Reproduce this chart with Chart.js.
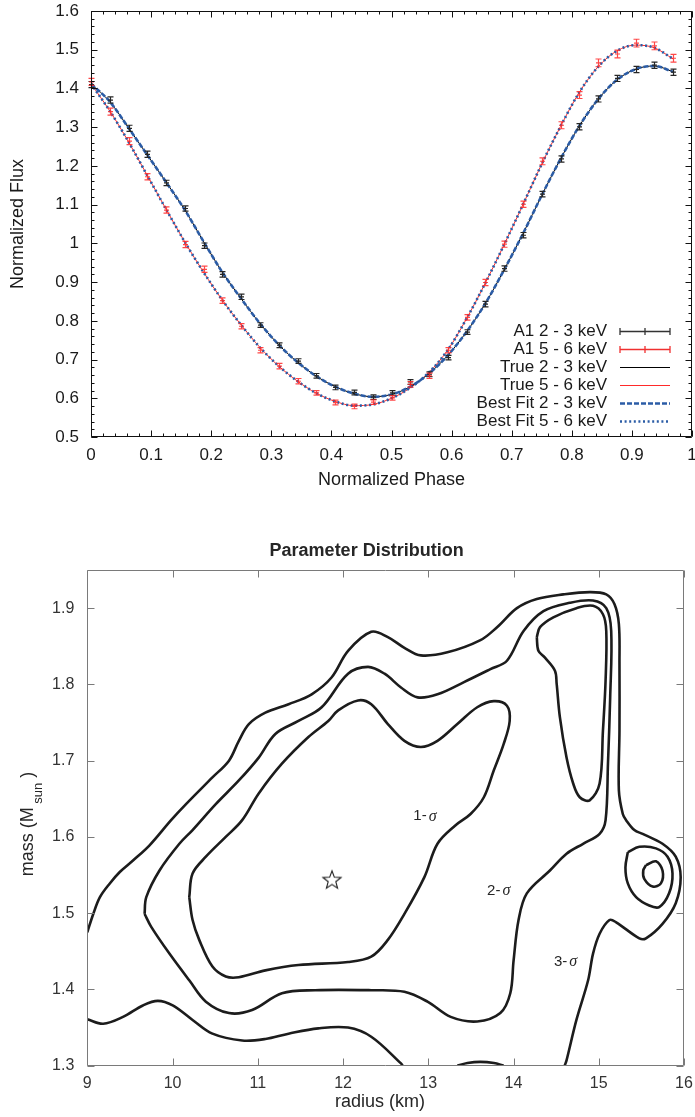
<!DOCTYPE html>
<html>
<head>
<meta charset="utf-8">
<script src="https://cdn.jsdelivr.net/npm/chart.js@4.4.1/dist/chart.umd.min.js"></script>
<style>
    html, body { margin: 0; padding: 0; background: #fff; }
    #wrap { position: relative; width: 695px; height: 1117px; overflow: hidden; }
    canvas { position: absolute; left: 0; }
    #fluxChart { top: 0; }
    #massChart { top: 505px; }
</style>
</head>
<body>
<div id="wrap">
    <canvas id="fluxChart" width="695" height="505"></canvas>
    <canvas id="massChart" width="695" height="612"></canvas>
</div>
<script>
// ---- Pulse profile data (top panel) ----
const phases = [0, 0.03125, 0.0625, 0.09375, 0.125, 0.15625, 0.1875, 0.21875, 0.25, 0.28125, 0.3125, 0.34375, 0.375, 0.40625, 0.4375, 0.46875,
    0.5, 0.53125, 0.5625, 0.59375, 0.625, 0.65625, 0.6875, 0.71875, 0.75, 0.78125, 0.8125, 0.84375, 0.875, 0.90625, 0.9375, 0.96875];
const a1Low = [1.410, 1.370, 1.297, 1.230, 1.156, 1.090, 0.994, 0.920, 0.862, 0.789, 0.737, 0.696, 0.658, 0.628, 0.615, 0.603,
    0.614, 0.642, 0.662, 0.705, 0.771, 0.843, 0.935, 1.021, 1.127, 1.218, 1.301, 1.373, 1.426, 1.449, 1.460, 1.442];
const a1High = [1.417, 1.340, 1.264, 1.172, 1.086, 0.997, 0.933, 0.852, 0.786, 0.724, 0.683, 0.644, 0.614, 0.589, 0.579, 0.590,
    0.601, 0.636, 0.658, 0.724, 0.809, 0.899, 0.998, 1.101, 1.212, 1.305, 1.383, 1.466, 1.489, 1.517, 1.510, 1.478];
const errLow = [0.008, 0.008, 0.008, 0.008, 0.007, 0.007, 0.007, 0.007, 0.007, 0.006, 0.006, 0.006, 0.006, 0.006, 0.006, 0.006,
    0.006, 0.006, 0.006, 0.006, 0.006, 0.007, 0.007, 0.007, 0.007, 0.008, 0.008, 0.008, 0.008, 0.008, 0.008, 0.008];
const errHigh = [0.009, 0.009, 0.009, 0.008, 0.008, 0.008, 0.008, 0.007, 0.007, 0.007, 0.007, 0.007, 0.006, 0.006, 0.006, 0.006,
    0.006, 0.007, 0.007, 0.007, 0.007, 0.008, 0.008, 0.008, 0.009, 0.009, 0.009, 0.010, 0.010, 0.010, 0.010, 0.010];
const modelLow = [1.412, 1.366, 1.298, 1.228, 1.158, 1.086, 1.004, 0.925, 0.857, 0.793, 0.738, 0.693, 0.657, 0.630, 0.612, 0.604,
    0.610, 0.630, 0.664, 0.711, 0.772, 0.845, 0.932, 1.025, 1.124, 1.218, 1.303, 1.372, 1.422, 1.450, 1.458, 1.443];
const modelHigh = [1.412, 1.342, 1.262, 1.175, 1.088, 1.003, 0.925, 0.853, 0.789, 0.731, 0.683, 0.644, 0.613, 0.592, 0.581, 0.584,
    0.600, 0.627, 0.667, 0.725, 0.806, 0.898, 0.997, 1.100, 1.205, 1.302, 1.390, 1.456, 1.497, 1.512, 1.505, 1.476];
const phaseTicks = [0, 0.1, 0.2, 0.3, 0.4, 0.5, 0.6, 0.7, 0.8, 0.9, 1];
const fluxTicks = [0.5, 0.6, 0.7, 0.8, 0.9, 1, 1.1, 1.2, 1.3, 1.4, 1.5, 1.6];
const legendLabels = ['A1 2 - 3 keV', 'A1 5 - 6 keV', 'True 2 - 3 keV', 'True 5 - 6 keV', 'Best Fit 2 - 3 keV', 'Best Fit 5 - 6 keV'];

// ---- Parameter distribution contours (bottom panel), [radius km, mass Msun] ----
const sigma1Main = [[10.196, 1.521], [10.235, 1.552], [10.391, 1.574], [10.624, 1.600], [10.817, 1.622], [11.011, 1.657], [11.283, 1.696],
    [11.594, 1.731], [11.827, 1.752], [11.943, 1.766], [12.176, 1.779], [12.331, 1.774], [12.526, 1.748], [12.720, 1.726], [12.913, 1.718],
    [13.108, 1.726], [13.341, 1.748], [13.574, 1.770], [13.768, 1.778], [13.923, 1.772], [13.955, 1.752], [13.885, 1.722], [13.768, 1.687],
    [13.652, 1.652], [13.496, 1.630], [13.317, 1.615], [13.108, 1.591], [12.953, 1.547], [12.720, 1.499], [12.526, 1.465], [12.331, 1.443],
    [12.059, 1.436], [11.477, 1.432], [11.089, 1.425], [10.778, 1.416], [10.624, 1.417], [10.468, 1.430], [10.313, 1.465], [10.235, 1.491],
    [10.196, 1.521]];
const sigma1Loop = [[14.273, 1.862], [14.311, 1.875], [14.467, 1.888], [14.738, 1.900], [14.933, 1.903], [15.049, 1.892], [15.088, 1.870],
    [15.080, 1.805], [15.049, 1.739], [15.010, 1.670], [14.893, 1.648], [14.777, 1.652], [14.700, 1.670], [14.622, 1.704], [14.544, 1.757],
    [14.506, 1.801], [14.486, 1.818], [14.369, 1.835], [14.292, 1.844], [14.273, 1.862]];
const sigma1Island = [[15.554, 1.563], [15.671, 1.568], [15.748, 1.556], [15.729, 1.539], [15.632, 1.535], [15.534, 1.545], [15.522, 1.556],
    [15.554, 1.563]];
const sigma2Main = [[9.672, 1.499], [9.692, 1.521], [9.847, 1.556], [10.080, 1.591], [10.235, 1.609], [10.507, 1.643], [10.778, 1.674],
    [11.011, 1.704], [11.206, 1.735], [11.477, 1.752], [11.749, 1.770], [12.059, 1.814], [12.293, 1.823], [12.487, 1.814], [12.680, 1.796],
    [12.875, 1.783], [13.108, 1.787], [13.419, 1.803], [13.729, 1.820], [13.923, 1.831], [14.118, 1.870], [14.351, 1.896], [14.660, 1.907],
    [14.933, 1.910], [15.088, 1.900], [15.146, 1.870], [15.134, 1.783], [15.108, 1.696], [15.080, 1.622], [15.010, 1.604], [14.816, 1.591],
    [14.622, 1.578], [14.427, 1.556], [14.156, 1.526], [14.059, 1.491], [14.001, 1.438], [13.962, 1.395], [13.845, 1.369], [13.574, 1.358],
    [13.263, 1.364], [12.991, 1.384], [12.720, 1.397], [12.331, 1.399], [11.672, 1.399], [11.283, 1.395], [10.933, 1.373], [10.662, 1.369],
    [10.391, 1.384], [10.196, 1.412], [9.963, 1.447], [9.750, 1.482], [9.672, 1.499]];
const sigma2Island = [[15.341, 1.580], [15.476, 1.587], [15.671, 1.585], [15.807, 1.574], [15.865, 1.552], [15.825, 1.526], [15.709, 1.508],
    [15.592, 1.510], [15.438, 1.521], [15.341, 1.539], [15.313, 1.560], [15.341, 1.580]];
const sigma3Upper = [[9.000, 1.475], [9.070, 1.499], [9.148, 1.521], [9.264, 1.539], [9.381, 1.554], [9.536, 1.569], [9.730, 1.589],
    [9.983, 1.622], [10.158, 1.643], [10.468, 1.678],
    [10.662, 1.700], [10.778, 1.726], [10.895, 1.748], [11.089, 1.763], [11.361, 1.774], [11.632, 1.787], [11.865, 1.809], [12.059, 1.844],
    [12.331, 1.869], [12.526, 1.862], [12.720, 1.848], [12.913, 1.838], [13.224, 1.842], [13.612, 1.858], [13.807, 1.875], [14.040, 1.900],
    [14.273, 1.912], [14.584, 1.918], [14.893, 1.921], [15.088, 1.918], [15.185, 1.905], [15.236, 1.879], [15.243, 1.827], [15.243, 1.739],
    [15.236, 1.661], [15.282, 1.630], [15.321, 1.622], [15.418, 1.609], [15.515, 1.604], [15.748, 1.591], [15.903, 1.574], [15.961, 1.547],
    [15.903, 1.513], [15.748, 1.486], [15.554, 1.467], [15.476, 1.467], [15.204, 1.488], [15.126, 1.491], [15.010, 1.473], [14.933, 1.447],
    [14.875, 1.412], [14.738, 1.360], [14.622, 1.307], [14.600, 1.300]];
const sigma3Lower = [[9.000, 1.361], [9.186, 1.355], [9.419, 1.364], [9.652, 1.379], [9.827, 1.385], [10.002, 1.379], [10.235, 1.360],
    [10.468, 1.342], [10.817, 1.333], [11.089, 1.335], [11.361, 1.342], [11.710, 1.349], [12.059, 1.350], [12.331, 1.338], [12.680, 1.303],
    [12.700, 1.300]];
const sigma3Arc = [[13.340, 1.300], [13.460, 1.3035], [13.610, 1.305], [13.770, 1.3035], [13.885, 1.300]];
const starPoint = [11.87, 1.544];
const sigmaLabels = [['1-', 12.825, 1.627], ['2-', 13.690, 1.529], ['3-', 14.474, 1.436]];
const radiusTicks = [9, 10, 11, 12, 13, 14, 15, 16];
const massTicks = [1.3, 1.4, 1.5, 1.6, 1.7, 1.8, 1.9];

const SANS = "'Liberation Sans', Arial, Helvetica, sans-serif";
const BLUE = '#2b5ca6';
const RED = '#ff2a2a';

function pairs(xs, ys) {
    return xs.map((x, i) => ({ x: x, y: ys[i] }));
}

function path(list) {
    return list.map(p => ({ x: p[0], y: p[1] }));
}

// Boxed frame with inward ticks on all four sides
function drawBox(chart, o) {
    const { ctx, chartArea: a, scales } = chart;
    const xs = scales.x, ys = scales.y;
    const L = Math.round(a.left) + 0.5, R = Math.round(a.right) - 0.5;
    const T = Math.round(a.top) + 0.5, B = Math.round(a.bottom) - 0.5;
    ctx.save();
    ctx.strokeStyle = o.color;
    ctx.lineWidth = 1;
    ctx.beginPath();
    ctx.rect(L, T, R - L, B - T);
    const tickX = (v, len) => {
        const p = Math.round(xs.getPixelForValue(v)) + 0.5;
        ctx.moveTo(p, B); ctx.lineTo(p, B - len);
        ctx.moveTo(p, T); ctx.lineTo(p, T + len);
    };
    const tickY = (v, len) => {
        const p = Math.round(ys.getPixelForValue(v)) + 0.5;
        ctx.moveTo(L, p); ctx.lineTo(L + len, p);
        ctx.moveTo(R, p); ctx.lineTo(R - len, p);
    };
    xs.ticks.forEach(t => tickX(t.value, o.major));
    ys.ticks.forEach(t => tickY(t.value, o.major));
    if (o.minorX) {
        for (let v = xs.min; v <= xs.max + 1e-9; v += o.minorX) tickX(v, o.minor);
    }
    if (o.minorY) {
        for (let v = ys.min; v <= ys.max + 1e-9; v += o.minorY) tickY(v, o.minor);
    }
    ctx.stroke();
    ctx.restore();
}

// Error bars for the A1 points
const errorBarPlugin = {
    id: 'errorBars',
    afterDatasetsDraw(chart) {
        const { ctx, scales: { y } } = chart;
        const sets = [[4, errLow, a1Low, '#262626'], [5, errHigh, a1High, 'rgba(255,40,40,0.85)']];
        ctx.save();
        ctx.lineWidth = 1.2;
        sets.forEach(([idx, errs, vals, color]) => {
            const meta = chart.getDatasetMeta(idx);
            ctx.strokeStyle = color;
            ctx.beginPath();
            meta.data.forEach((pt, i) => {
                const x = Math.round(pt.x) + 0.5;
                const top = y.getPixelForValue(vals[i] + errs[i]);
                const bot = y.getPixelForValue(vals[i] - errs[i]);
                ctx.moveTo(x, top); ctx.lineTo(x, bot);
                ctx.moveTo(x - 3, top); ctx.lineTo(x + 3, top);
                ctx.moveTo(x - 3, bot); ctx.lineTo(x + 3, bot);
                ctx.moveTo(x - 2.5, pt.y); ctx.lineTo(x + 2.5, pt.y);
            });
            ctx.stroke();
        });
        ctx.restore();
    }
};

const fluxDecor = {
    id: 'fluxDecor',
    afterDraw(chart) {
        drawBox(chart, { color: '#111', major: 6, minor: 3, minorX: 0.02, minorY: 0.02 });
        const ctx = chart.ctx;
        const textRight = 607, x1 = 620, x2 = 670, y0 = 331, dy = 18;
        ctx.save();
        ctx.font = '17px ' + SANS;
        ctx.fillStyle = '#1a1a1a';
        ctx.textAlign = 'right';
        ctx.textBaseline = 'middle';
        legendLabels.forEach((txt, i) => {
            const yy = Math.round(y0 + i * dy) + 0.5;
            ctx.fillText(txt, textRight, yy);
            ctx.beginPath();
            ctx.setLineDash([]);
            if (i < 2) {
                ctx.strokeStyle = i === 0 ? '#333' : '#f03030';
                ctx.lineWidth = 1.3;
                ctx.moveTo(x1, yy); ctx.lineTo(x2, yy);
                [x1, (x1 + x2) / 2, x2].forEach(xx => { ctx.moveTo(xx, yy - 3.5); ctx.lineTo(xx, yy + 3.5); });
            } else if (i < 4) {
                ctx.strokeStyle = i === 2 ? '#000' : RED;
                ctx.lineWidth = 1;
                ctx.moveTo(x1, yy); ctx.lineTo(x2, yy);
            } else {
                ctx.strokeStyle = BLUE;
                ctx.lineWidth = 2.6;
                ctx.setLineDash(i === 4 ? [5, 2] : [2, 2.6]);
                ctx.moveTo(x1, yy); ctx.lineTo(i === 4 ? x2 : x2 - 2, yy);
            }
            ctx.stroke();
        });
        ctx.restore();
    }
};

function initFluxChart() {
    const ctx = document.getElementById('fluxChart').getContext('2d');
    const lineBase = { pointRadius: 0, fill: false, cubicInterpolationMode: 'monotone' };
    new Chart(ctx, {
        type: 'line',
        data: {
            datasets: [
                Object.assign({ label: legendLabels[4], data: pairs(phases, modelLow), borderColor: BLUE, borderWidth: 2.6, borderDash: [5, 2] }, lineBase),
                Object.assign({ label: legendLabels[5], data: pairs(phases, modelHigh), borderColor: BLUE, borderWidth: 2.6, borderDash: [2, 2.6] }, lineBase),
                Object.assign({ label: legendLabels[2], data: pairs(phases, modelLow), borderColor: '#000', borderWidth: 1 }, lineBase),
                Object.assign({ label: legendLabels[3], data: pairs(phases, modelHigh), borderColor: RED, borderWidth: 1 }, lineBase),
                { label: legendLabels[0], data: pairs(phases, a1Low), showLine: false, pointRadius: 0 },
                { label: legendLabels[1], data: pairs(phases, a1High), showLine: false, pointRadius: 0 }
            ]
        },
        options: {
            responsive: false,
            animation: false,
            layout: { padding: { top: 11, right: 3, left: 0, bottom: 0 } },
            plugins: {
                legend: { display: false },
                tooltip: { enabled: false }
            },
            scales: {
                x: {
                    type: 'linear',
                    min: 0,
                    max: 1,
                    afterBuildTicks: s => { s.ticks = phaseTicks.map(v => ({ value: v })); },
                    afterFit: s => { s.height = 68; s.paddingLeft = 0; s.paddingRight = 0; },
                    grid: { display: false, drawTicks: false },
                    border: { display: false },
                    ticks: { callback: v => String(v), padding: 8.5, color: '#1a1a1a', font: { family: SANS, size: 17 }, maxRotation: 0, autoSkip: false },
                    title: { display: true, text: 'Normalized Phase', color: '#1a1a1a', font: { family: SANS, size: 18 }, padding: { top: 0, bottom: 14.2 } }
                },
                y: {
                    type: 'linear',
                    min: 0.5,
                    max: 1.6,
                    afterBuildTicks: s => { s.ticks = fluxTicks.map(v => ({ value: v })); },
                    afterFit: s => { s.width = 91; s.paddingTop = 0; s.paddingBottom = 0; },
                    grid: { display: false, drawTicks: false },
                    border: { display: false },
                    ticks: { callback: v => String(v), padding: 12, color: '#1a1a1a', font: { family: SANS, size: 17 }, autoSkip: false },
                    title: { display: true, text: 'Normalized Flux', color: '#1a1a1a', font: { family: SANS, size: 18 }, padding: { top: 7.2, bottom: 0 } }
                }
            }
        },
        plugins: [errorBarPlugin, fluxDecor]
    });
}

// Hollow five-pointed star used as the marker of the true parameters
function makeStar(size) {
    const c = document.createElement('canvas');
    c.width = size;
    c.height = size;
    const g = c.getContext('2d');
    const cx = size / 2, cy = size / 2 + 0.8;
    const ro = size / 2 - 1.5, ri = ro * 0.42;
    g.beginPath();
    for (let k = 0; k < 10; k++) {
        const r = k % 2 ? ri : ro;
        const ang = -Math.PI / 2 + k * Math.PI / 5;
        g.lineTo(cx + r * Math.cos(ang), cy + r * Math.sin(ang));
    }
    g.closePath();
    g.strokeStyle = '#1a1a1a';
    g.lineWidth = 1.1;
    g.stroke();
    return c;
}

const massDecor = {
    id: 'massDecor',
    afterDraw(chart) {
        drawBox(chart, { color: '#7a7a7a', major: 7 });
        const { ctx, scales: { x, y } } = chart;
        ctx.save();
        ctx.fillStyle = '#262626';
        ctx.textBaseline = 'middle';
        // title
        ctx.font = 'bold 18px ' + SANS;
        ctx.textAlign = 'center';
        ctx.fillText('Parameter Distribution', 366.6, 46);
        // x title
        ctx.font = '18px ' + SANS;
        ctx.fillText('radius (km)', 380, 597);
        // y title with subscript
        ctx.save();
        ctx.translate(33, 319);
        ctx.rotate(-Math.PI / 2);
        ctx.textAlign = 'left';
        ctx.textBaseline = 'alphabetic';
        const big = '18px ' + SANS, small = '13px ' + SANS;
        ctx.font = big;
        const w1 = ctx.measureText('mass (M').width;
        const w3 = ctx.measureText(' )').width;
        ctx.font = small;
        const w2 = ctx.measureText(' sun').width;
        let cx = -(w1 + w2 + w3) / 2;
        ctx.font = big;
        ctx.fillText('mass (M', cx, 0);
        cx += w1;
        ctx.font = small;
        ctx.fillText(' sun', cx, 9);
        cx += w2;
        ctx.font = big;
        ctx.fillText(' )', cx, 0);
        ctx.restore();
        // sigma labels
        ctx.textAlign = 'left';
        sigmaLabels.forEach(([txt, r, m]) => {
            const px = x.getPixelForValue(r), py = y.getPixelForValue(m);
            ctx.font = '15px ' + SANS;
            ctx.fillText(txt, px, py);
            const w = ctx.measureText(txt).width;
            ctx.font = 'italic 16px "Liberation Serif", "DejaVu Serif", serif';
            ctx.fillText('\u03C3', px + w + 2, py);
        });
        ctx.restore();
    }
};

function initMassChart() {
    const ctx = document.getElementById('massChart').getContext('2d');
    const contour = list => ({
        data: path(list),
        showLine: true,
        borderColor: '#1c1c1c',
        borderWidth: 2.6,
        pointRadius: 0,
        tension: 0.35,
        fill: false
    });
    new Chart(ctx, {
        type: 'scatter',
        data: {
            datasets: [
                {
                    data: [{ x: starPoint[0], y: starPoint[1] }],
                    pointStyle: makeStar(22),
                    pointRadius: 10,
                    showLine: false
                },
                contour(sigma1Main),
                contour(sigma1Loop),
                contour(sigma1Island),
                contour(sigma2Main),
                contour(sigma2Island),
                contour(sigma3Upper),
                contour(sigma3Lower),
                contour(sigma3Arc)
            ]
        },
        options: {
            responsive: false,
            animation: false,
            layout: { padding: { top: 65, right: 6.7, left: 0, bottom: 0 } },
            plugins: {
                legend: { display: false },
                tooltip: { enabled: false }
            },
            scales: {
                x: {
                    type: 'linear',
                    min: 9,
                    max: 16,
                    afterBuildTicks: s => { s.ticks = radiusTicks.map(v => ({ value: v })); },
                    afterFit: s => { s.height = 51.3; s.paddingLeft = 0; s.paddingRight = 0; },
                    grid: { display: false, drawTicks: false },
                    border: { display: false },
                    ticks: { callback: v => String(v), padding: 8, color: '#333', font: { family: SANS, size: 16 }, maxRotation: 0, autoSkip: false }
                },
                y: {
                    type: 'linear',
                    min: 1.3,
                    max: 1.95,
                    afterBuildTicks: s => { s.ticks = massTicks.map(v => ({ value: v })); },
                    afterFit: s => { s.width = 87.3; s.paddingTop = 0; s.paddingBottom = 0; },
                    grid: { display: false, drawTicks: false },
                    border: { display: false },
                    ticks: { callback: v => String(v), padding: 13, color: '#333', font: { family: SANS, size: 16 }, autoSkip: false }
                }
            }
        },
        plugins: [massDecor]
    });
}

document.addEventListener('DOMContentLoaded', function() {
    initFluxChart();
    initMassChart();
});
</script>
</body>
</html>
